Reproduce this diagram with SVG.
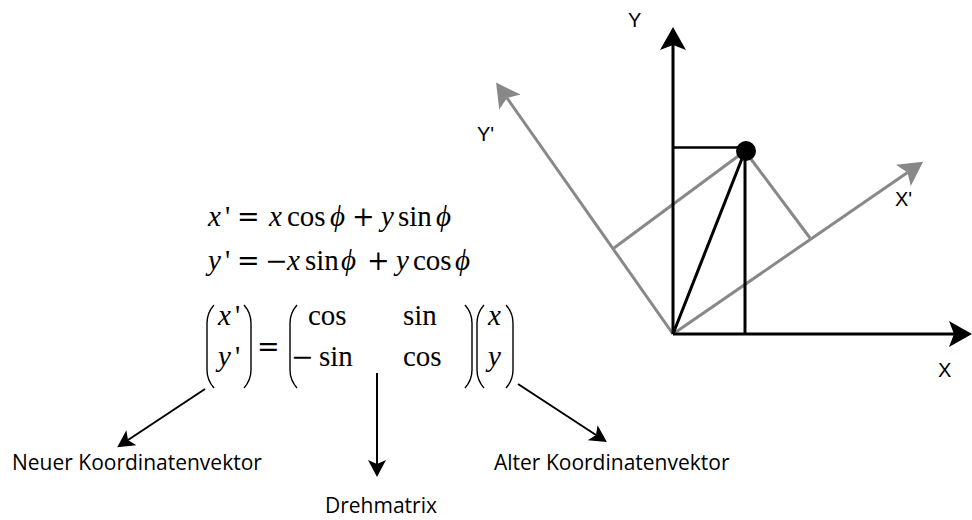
<svg xmlns="http://www.w3.org/2000/svg" width="972" height="520" viewBox="0 0 972 520">
<style>
.ax{stroke:#000;stroke-width:3;fill:none}
.gx{stroke:#888;stroke-width:3;fill:none}
.thin{stroke:#000;stroke-width:2.5;fill:none}
.ann{stroke:#000;stroke-width:2;fill:none}
.par{stroke:#000;stroke-width:1.4;fill:none}
.lab{font-family:"Liberation Sans",Arial,sans-serif;font-size:20px;fill:#000}
.cap{font-family:"Open Sans","Liberation Sans",Arial,sans-serif;font-size:21px;fill:#000}
.m{font-family:"Liberation Serif","DejaVu Serif",serif;font-size:29px;fill:#000}
.op{font-family:"DejaVu Serif","Liberation Serif",serif;font-size:27px;fill:#000}
.i{font-style:italic}
</style>
<defs>
<marker id="ab" markerUnits="userSpaceOnUse" viewBox="-6 -14 26 28" refX="0" refY="0" markerWidth="26" markerHeight="28" orient="auto" overflow="visible">
<path d="M18,0 L-5,-13 L0,0 L-5,13 Z" fill="#000"/>
</marker>
<marker id="ag" markerUnits="userSpaceOnUse" viewBox="-6 -14 26 28" refX="0" refY="0" markerWidth="26" markerHeight="28" orient="auto" overflow="visible">
<path d="M19,0 L-5,-13 L0,0 L-5,13 Z" fill="#888"/>
</marker>
<marker id="as" markerUnits="userSpaceOnUse" viewBox="-5 -10 20 20" refX="0" refY="0" markerWidth="20" markerHeight="20" orient="auto" overflow="visible">
<path d="M13,0 L-4,-9 L0,0 L-4,9 Z" fill="#000"/>
</marker>
</defs>

<g id="connectors">
<line class="gx" x1="673" y1="334" x2="907.5" y2="172.5" marker-end="url(#ag)"/>
<line class="gx" x1="673" y1="334" x2="507" y2="98" marker-end="url(#ag)"/>
<line class="gx" x1="745" y1="151" x2="810" y2="238"/>
<line class="gx" x1="745" y1="151" x2="614" y2="248"/>
<line class="ax" x1="673" y1="334" x2="673" y2="45" marker-end="url(#ab)"/>
<line class="ax" x1="673" y1="334" x2="954" y2="334" marker-end="url(#ab)"/>
<line class="thin" x1="673" y1="147.5" x2="745" y2="147.5"/>
<line class="ax" x1="745" y1="151" x2="745" y2="334"/>
<line class="ax" x1="673" y1="334" x2="745" y2="151"/>
<line class="ann" x1="205" y1="389" x2="128" y2="440" marker-end="url(#as)"/>
<line class="ann" x1="377" y1="373" x2="377" y2="464" marker-end="url(#as)"/>
<line class="ann" x1="518" y1="384" x2="596" y2="435" marker-end="url(#as)"/>
</g>

<g id="point">
<circle cx="746" cy="151" r="10" fill="#000"/>
</g>

<g id="axis-labels">
<text class="lab" x="628" y="27">Y</text>
<text class="lab" x="477" y="141">Y'</text>
<text class="lab" x="895" y="206">X'</text>
<text class="lab" x="938" y="377">X</text>
</g>

<g id="equation1">
<text class="m i" x="208" y="226">x</text>
<text class="m" x="225" y="226">'</text>
<text class="op" x="237" y="226">=</text>
<text class="m i" x="269" y="226">x</text>
<text class="m" x="287" y="226">cos</text>
<text class="m i" x="330" y="226">ϕ</text>
<text class="op" x="352" y="226">+</text>
<text class="m i" x="381" y="226">y</text>
<text class="m" x="398" y="226">sin</text>
<text class="m i" x="436" y="226">ϕ</text>
</g>

<g id="equation2">
<text class="m i" x="208" y="270">y</text>
<text class="m" x="225" y="270">'</text>
<text class="op" x="237" y="270">=</text>
<text class="op" x="265" y="270">−</text>
<text class="m i" x="287" y="270">x</text>
<text class="m" x="305" y="270">sin</text>
<text class="m i" x="341" y="270">ϕ</text>
<text class="op" x="367" y="270">+</text>
<text class="m i" x="396" y="270">y</text>
<text class="m" x="413" y="270">cos</text>
<text class="m i" x="455" y="270">ϕ</text>
</g>

<g id="matrix-equation">
<path class="par" d="M214,305 Q207,313 207,323 L207,370 Q207,380 214,388"/>
<path class="par" d="M244,305 Q251,313 251,323 L251,370 Q251,380 244,388"/>
<text class="m i" x="218" y="325">x</text>
<text class="m" x="235" y="325">'</text>
<text class="m i" x="218" y="366">y</text>
<text class="m" x="235" y="366">'</text>
<text class="op" x="257" y="356">=</text>
<path class="par" d="M297,305 Q290,313 290,323 L290,370 Q290,380 297,388"/>
<text class="m" x="308" y="325">cos</text>
<text class="m" x="403" y="325">sin</text>
<text class="op" x="291" y="366">−</text>
<text class="m" x="319" y="366">sin</text>
<text class="m" x="403" y="366">cos</text>
<path class="par" d="M465,305 Q472,313 472,323 L472,370 Q472,380 465,388"/>
<path class="par" d="M484,305 Q477,313 477,323 L477,370 Q477,380 484,388"/>
<text class="m i" x="488" y="325">x</text>
<text class="m i" x="488" y="366">y</text>
<path class="par" d="M506,305 Q513,313 513,323 L513,370 Q513,380 506,388"/>
</g>

<g id="label-neuer">
<text class="cap" x="12" y="470">Neuer Koordinatenvektor</text>
</g>
<g id="label-drehmatrix">
<text class="cap" x="325" y="513">Drehmatrix</text>
</g>
<g id="label-alter">
<text class="cap" x="494" y="470">Alter Koordinatenvektor</text>
</g>
</svg>
